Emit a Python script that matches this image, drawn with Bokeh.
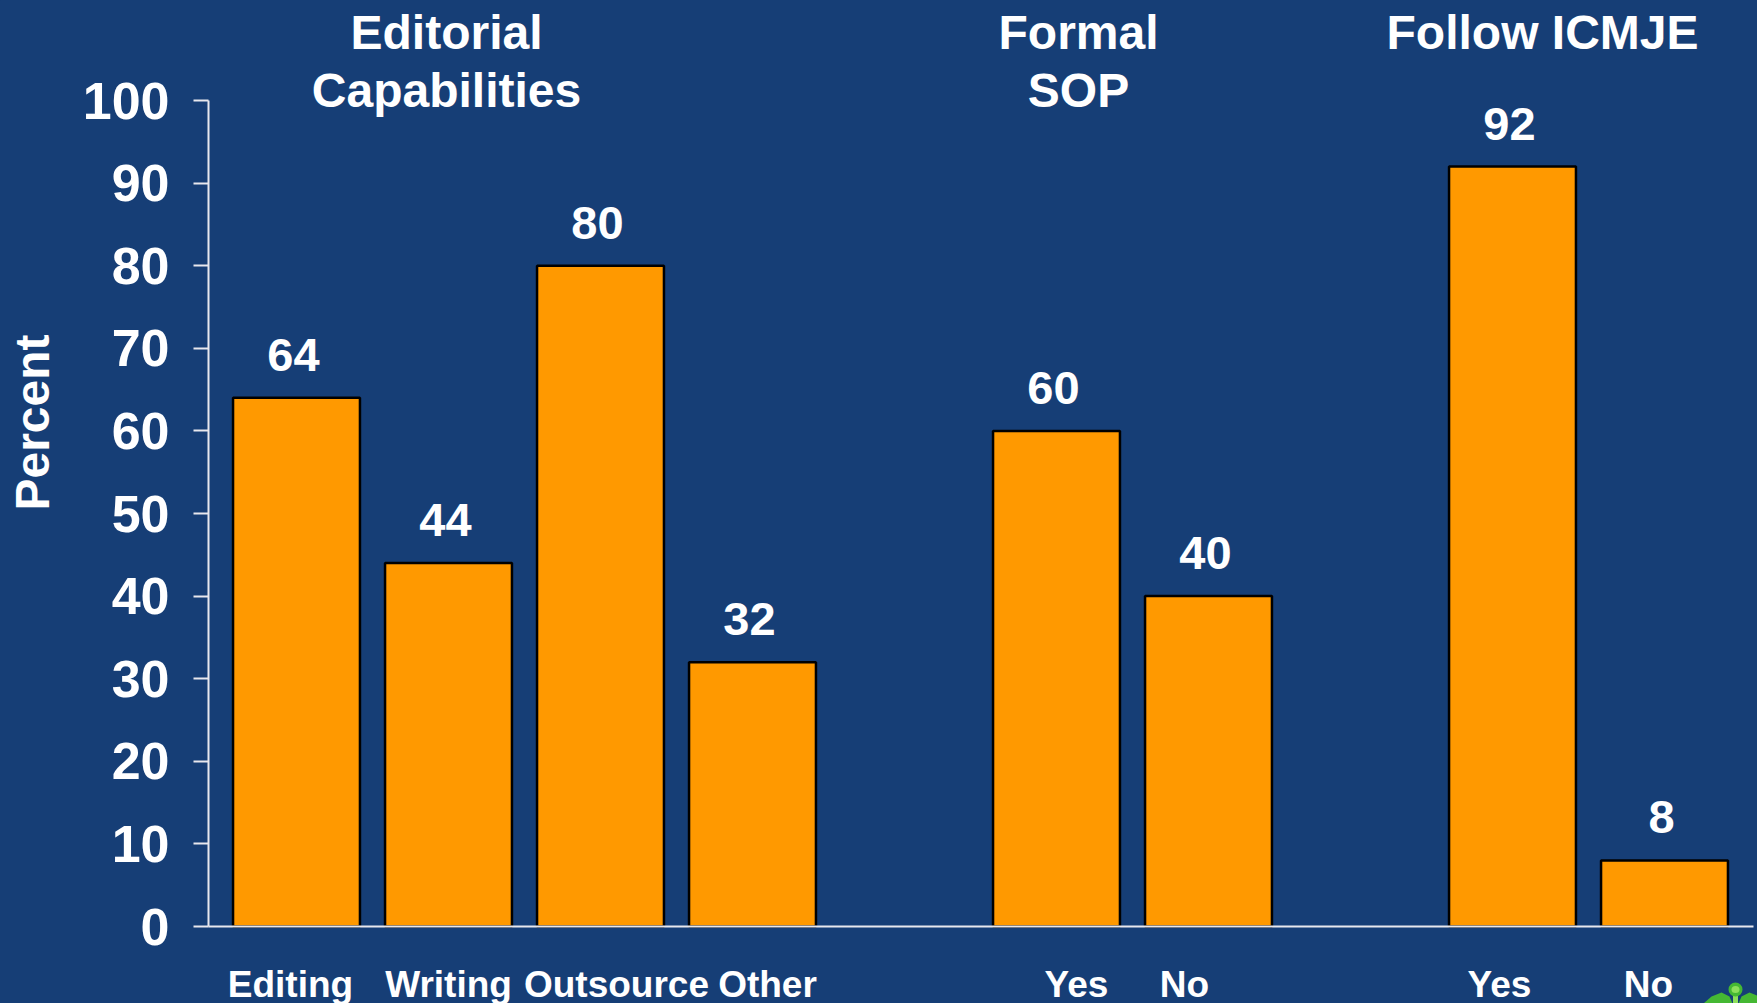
from bokeh.embed import file_html
from bokeh.models import ColumnDataSource, FixedTicker, Range1d
from bokeh.plotting import figure
from bokeh.resources import INLINE
from bokeh.core.properties import value
from math import pi

# Survey responses in percent, one slot per bar; slots 4 and 7 separate the groups
categories = ["Editing", "Writing", "Outsource", "Other", "Yes", "No", "Yes", "No"]
slots = [0, 1, 2, 3, 5, 6, 8, 9]
percents = [64, 44, 80, 32, 60, 40, 92, 8]

group_titles = ["Editorial\nCapabilities", "Formal\nSOP", "Follow ICMJE"]
y_ticks = list(range(0, 101, 10))

BG = "#163e76"
BAR = "#ff9900"
AXIS = "#e8e8ee"
FONT = "Liberation Sans"

# Page geometry: the plot frame fills the page and the axes sit inside it
PAGE_W, PAGE_H = 1757, 1003
SLOT0_PX, SLOT_PX = 296, 152
ZERO_PX, UNIT_PX = 926, 8.26
AXIS_LEFT_PX, AXIS_RIGHT_PX = 208, 1753


def sx(px):
    return (px - SLOT0_PX) / SLOT_PX


def sy(px):
    return (ZERO_PX - px) / UNIT_PX


p = figure(
    width=PAGE_W, height=PAGE_H, output_backend="svg", toolbar_location=None,
    x_range=Range1d(sx(0), sx(PAGE_W)), y_range=Range1d(sy(PAGE_H), sy(0)),
    background_fill_color=BG, border_fill_color=BG, outline_line_color=None,
    min_border=0,
)
p.grid.visible = False

src = ColumnDataSource(dict(slot=slots, pct=percents, txt=[str(v) for v in percents]))
p.vbar(x="slot", top="pct", bottom=0, width=0.835, source=src,
       fill_color=BAR, line_color="black", line_width=2.5)

bold = dict(text_color="white", text_font=value(FONT), text_font_style="bold")

# Value labels above the bars
p.text(x="slot", y="pct", text="txt", source=src, x_offset=-3, y_offset=-27,
       text_align="center", text_baseline="bottom", text_font_size="47px", **bold)

# Group headings
p.text(x=[sx(446), sx(1078), sx(1542)], y=[sy(5)] * 3, text=group_titles,
       text_align="center", text_baseline="top", text_font_size="48px",
       text_line_height=1.1, **bold)

# Vertical axis title
p.text(x=[sx(32)], y=[sy(422)], text=["Percent"], angle=pi / 2,
       text_align="center", text_baseline="middle", text_font_size="48px", **bold)

yax = p.yaxis[0]
yax.fixed_location = sx(AXIS_LEFT_PX)
yax.bounds = (0, 100)
yax.ticker = FixedTicker(ticks=y_ticks)
yax.major_label_text_font = FONT
yax.major_label_text_font_style = "bold"
yax.major_label_text_font_size = "52px"
yax.major_label_text_color = "white"
yax.major_label_standoff = 24
yax.major_tick_out = 15
yax.major_tick_in = 0
yax.minor_tick_line_color = None
yax.major_tick_line_color = AXIS
yax.major_tick_line_width = 2
yax.axis_line_color = AXIS
yax.axis_line_width = 2

# Category captions are hand-placed, slightly off their bars
caption_ticks = [sx(290), sx(448), sx(616), sx(767), sx(1076), sx(1184), sx(1499), sx(1648)]
xax = p.xaxis[0]
xax.fixed_location = 0
xax.bounds = (sx(AXIS_LEFT_PX), sx(AXIS_RIGHT_PX))
xax.ticker = FixedTicker(ticks=caption_ticks)
xax.major_label_overrides = {t: c for t, c in zip(caption_ticks, categories)}
xax.major_label_orientation = "horizontal"
xax.major_label_text_font = FONT
xax.major_label_text_font_style = "bold"
xax.major_label_text_font_size = "37px"
xax.major_label_text_color = "white"
xax.major_label_standoff = 31
xax.major_tick_line_color = None
xax.minor_tick_line_color = None
xax.axis_line_color = AXIS
xax.axis_line_width = 2

# Green caduceus emblem peeking in at the bottom right corner
GREEN, LIGHT = "#45b833", "#8de05a"
left_wing = [(1703, 1003), (1711, 996), (1721, 992), (1729, 996), (1732, 1003)]
right_wing = [(2 * 1735 - x, y) for x, y in left_wing]
for wing in (left_wing, right_wing):
    p.patch([sx(x) for x, _ in wing], [sy(y) for _, y in wing], fill_color=GREEN, line_color=None)
p.vbar(x=[sx(1735)], bottom=[sy(1003)], top=[sy(994)], width=5 / SLOT_PX, fill_color=LIGHT, line_color=None)
p.ellipse(x=[sx(1735)], y=[sy(989)], width=14 / SLOT_PX, height=14 / UNIT_PX, fill_color=GREEN, line_color=None)
p.ellipse(x=[sx(1735)], y=[sy(989)], width=8 / SLOT_PX, height=7 / UNIT_PX, fill_color=LIGHT, line_color=None)

# The page background carries the same navy so no pale edge shows around the plot
html = file_html(p, INLINE).replace("<head>", f"<head><style>html,body{{background:{BG};}}</style>", 1)
open("out.html", "w").write(html)
